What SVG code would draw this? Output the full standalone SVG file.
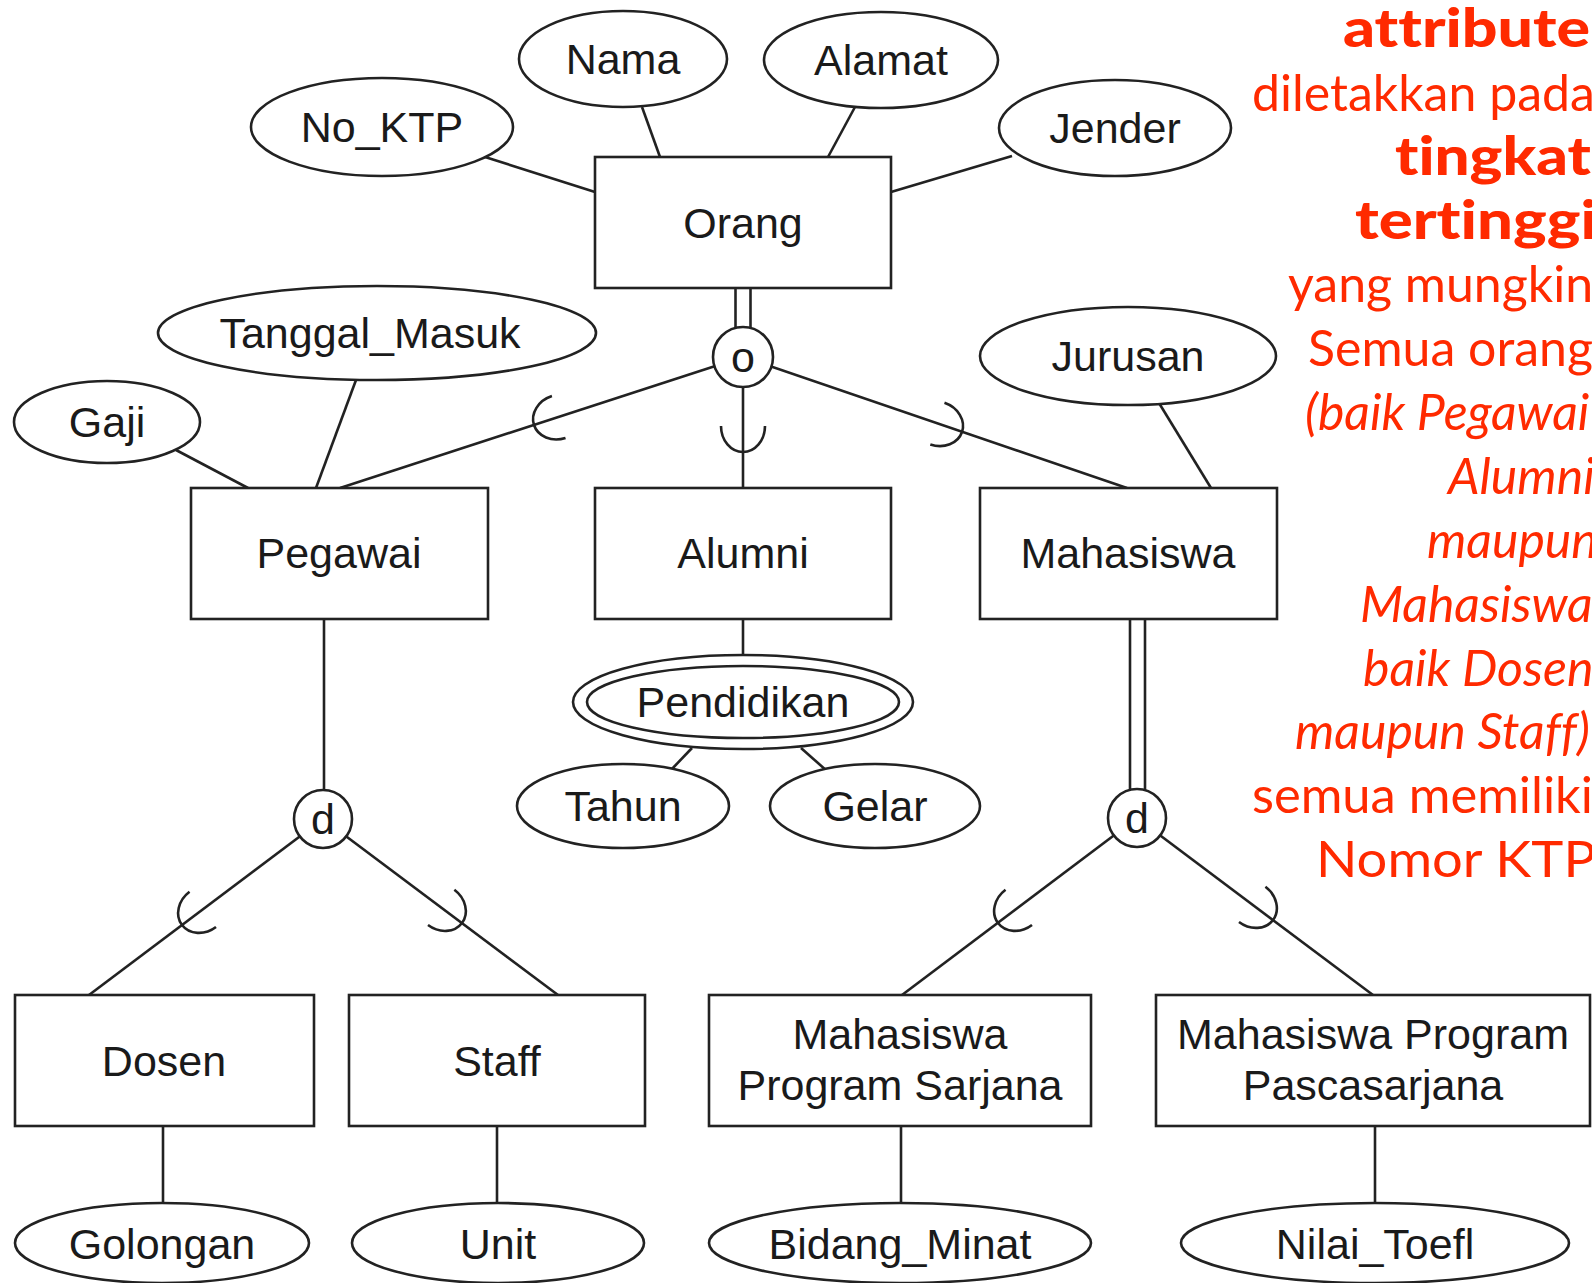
<svg xmlns="http://www.w3.org/2000/svg" xmlns:xlink="http://www.w3.org/1999/xlink" width="1592" height="1283" viewBox="0 0 1592 1283">
<style>
.bx{fill:#fff;stroke:#222;stroke-width:2.6}
.el{fill:#fff;stroke:#222;stroke-width:2.6}
.ln{fill:none;stroke:#222;stroke-width:2.6}
.t{font-family:"Liberation Sans",Arial,sans-serif;font-size:43px;fill:#1a1a1a;text-anchor:middle}
.r{font-family:Lato,"Open Sans",sans-serif;font-size:50px;fill:#ff2a00;font-variant-ligatures:none}
.rb{font-weight:900;font-size:54px}
.ri{font-style:italic}
</style>
<defs>
<path id="sub" d="M -26 -22 A 26 22 0 0 1 -26 22" fill="none" stroke="#222" stroke-width="2.6"/>
</defs>
<rect width="1592" height="1283" fill="#fff"/>
<g id="connectors">
<line class="ln" x1="485" y1="157" x2="595" y2="192"/>
<line class="ln" x1="642" y1="107" x2="660" y2="157"/>
<line class="ln" x1="855" y1="107" x2="828" y2="157"/>
<line class="ln" x1="1012" y1="156" x2="891" y2="192"/>
<line class="ln" x1="735.5" y1="288" x2="735.5" y2="332"/>
<line class="ln" x1="750.5" y1="288" x2="750.5" y2="332"/>
<line class="ln" x1="743" y1="357" x2="340" y2="488"/>
<line class="ln" x1="743" y1="357" x2="743" y2="488"/>
<line class="ln" x1="743" y1="357" x2="1127" y2="488"/>
<use href="#sub" transform="translate(534,425) rotate(162)"/>
<use href="#sub" transform="translate(743,452) rotate(90)"/>
<use href="#sub" transform="translate(962,432) rotate(18.8)"/>
<line class="ln" x1="356" y1="380" x2="316" y2="488"/>
<line class="ln" x1="176" y1="450" x2="248" y2="488"/>
<line class="ln" x1="1159" y1="403" x2="1211" y2="488"/>
<line class="ln" x1="743" y1="619" x2="743" y2="655"/>
<line class="ln" x1="692" y1="748" x2="670" y2="771"/>
<line class="ln" x1="801" y1="748" x2="827" y2="771"/>
<line class="ln" x1="324" y1="619" x2="324" y2="792"/>
<line class="ln" x1="323" y1="819" x2="89" y2="995"/>
<line class="ln" x1="323" y1="819" x2="558" y2="995"/>
<use href="#sub" transform="translate(182,925) rotate(143)"/>
<use href="#sub" transform="translate(462,923) rotate(36.8)"/>
<line class="ln" x1="1130" y1="619" x2="1130" y2="792"/>
<line class="ln" x1="1145" y1="619" x2="1145" y2="792"/>
<line class="ln" x1="1137" y1="818" x2="902" y2="995"/>
<line class="ln" x1="1137" y1="818" x2="1373" y2="995"/>
<use href="#sub" transform="translate(998,923) rotate(143)"/>
<use href="#sub" transform="translate(1273,920) rotate(36.9)"/>
<line class="ln" x1="163" y1="1126" x2="163" y2="1204"/>
<line class="ln" x1="497" y1="1126" x2="497" y2="1204"/>
<line class="ln" x1="901" y1="1126" x2="901" y2="1204"/>
<line class="ln" x1="1375" y1="1126" x2="1375" y2="1204"/>
</g>
<g id="Orang"><rect class="bx" x="595" y="157" width="296" height="131"/><text class="t" x="743" y="238">Orang</text></g>
<g id="Nama"><ellipse class="el" cx="623" cy="59" rx="104" ry="48"/><text class="t" x="623" y="74">Nama</text></g>
<g id="Alamat"><ellipse class="el" cx="881" cy="60" rx="117" ry="48"/><text class="t" x="881" y="75">Alamat</text></g>
<g id="No_KTP"><ellipse class="el" cx="382" cy="127" rx="131" ry="49"/><text class="t" x="382" y="142">No_KTP</text></g>
<g id="Jender"><ellipse class="el" cx="1115" cy="128" rx="116" ry="48"/><text class="t" x="1115" y="143">Jender</text></g>
<g id="Tanggal_Masuk"><ellipse class="el" cx="377" cy="333" rx="219" ry="47"/><text class="t" x="370" y="348">Tanggal_Masuk</text></g>
<g id="Gaji"><ellipse class="el" cx="107" cy="422" rx="93" ry="41"/><text class="t" x="107" y="437">Gaji</text></g>
<g id="Jurusan"><ellipse class="el" cx="1128" cy="356" rx="148" ry="49"/><text class="t" x="1128" y="371">Jurusan</text></g>
<g id="o"><circle class="el" cx="743" cy="357" r="30"/><text class="t" x="743" y="372">o</text></g>
<g id="Pegawai"><rect class="bx" x="191" y="488" width="297" height="131"/><text class="t" x="339" y="568">Pegawai</text></g>
<g id="Alumni"><rect class="bx" x="595" y="488" width="296" height="131"/><text class="t" x="743" y="568">Alumni</text></g>
<g id="Mahasiswa"><rect class="bx" x="980" y="488" width="297" height="131"/><text class="t" x="1128" y="568">Mahasiswa</text></g>
<g id="Pendidikan"><ellipse class="el" cx="743" cy="702" rx="170" ry="47"/><ellipse class="el" cx="743" cy="702" rx="156" ry="36"/><text class="t" x="743" y="717">Pendidikan</text></g>
<g id="Tahun"><ellipse class="el" cx="623" cy="806" rx="106" ry="42"/><text class="t" x="623" y="821">Tahun</text></g>
<g id="Gelar"><ellipse class="el" cx="875" cy="806" rx="105" ry="42"/><text class="t" x="875" y="821">Gelar</text></g>
<g id="d1"><circle class="el" cx="323" cy="819" r="29"/><text class="t" x="323" y="834">d</text></g>
<g id="d2"><circle class="el" cx="1137" cy="818" r="29"/><text class="t" x="1137" y="833">d</text></g>
<g id="Dosen"><rect class="bx" x="15" y="995" width="299" height="131"/><text class="t" x="164" y="1076">Dosen</text></g>
<g id="Staff"><rect class="bx" x="349" y="995" width="296" height="131"/><text class="t" x="497" y="1076">Staff</text></g>
<g id="MahasiswaProgramSarjana"><rect class="bx" x="709" y="995" width="382" height="131"/><text class="t" x="900" y="1049">Mahasiswa</text><text class="t" x="900" y="1100">Program Sarjana</text></g>
<g id="MahasiswaProgramPascasarjana"><rect class="bx" x="1156" y="995" width="434" height="131"/><text class="t" x="1373" y="1049">Mahasiswa Program</text><text class="t" x="1373" y="1100">Pascasarjana</text></g>
<g id="Golongan"><ellipse class="el" cx="162" cy="1243" rx="147" ry="40"/><text class="t" x="162" y="1259">Golongan</text></g>
<g id="Unit"><ellipse class="el" cx="498" cy="1243" rx="146" ry="40"/><text class="t" x="498" y="1259">Unit</text></g>
<g id="Bidang_Minat"><ellipse class="el" cx="900" cy="1243" rx="191" ry="40"/><text class="t" x="900" y="1259">Bidang_Minat</text></g>
<g id="Nilai_Toefl"><ellipse class="el" cx="1375" cy="1243" rx="194" ry="40"/><text class="t" x="1375" y="1259">Nilai_Toefl</text></g>
<g id="note">
<text class="r rb" x="1343" y="47" textLength="247" lengthAdjust="spacingAndGlyphs">attribute</text>
<text class="r" x="1252" y="111">diletakkan pada</text>
<text class="r rb" x="1395" y="175" textLength="196" lengthAdjust="spacingAndGlyphs">tingkat</text>
<text class="r rb" x="1355" y="239" textLength="242" lengthAdjust="spacingAndGlyphs">tertinggi</text>
<text class="r" x="1288" y="302">yang mungkin</text>
<text class="r" x="1308" y="366">Semua orang</text>
<text class="r ri" x="1305" y="430">(baik Pegawai</text>
<text class="r ri" x="1448" y="494">Alumni</text>
<text class="r ri" x="1427" y="558">maupun</text>
<text class="r ri" x="1360" y="622">Mahasiswa</text>
<text class="r ri" x="1363" y="686">baik Dosen</text>
<text class="r ri" x="1295" y="749">maupun Staff)</text>
<text class="r" x="1252" y="813" textLength="341" lengthAdjust="spacingAndGlyphs">semua memiliki</text>
<text class="r" x="1316" y="877" textLength="280" lengthAdjust="spacingAndGlyphs">Nomor KTP</text>
</g>
</svg>
